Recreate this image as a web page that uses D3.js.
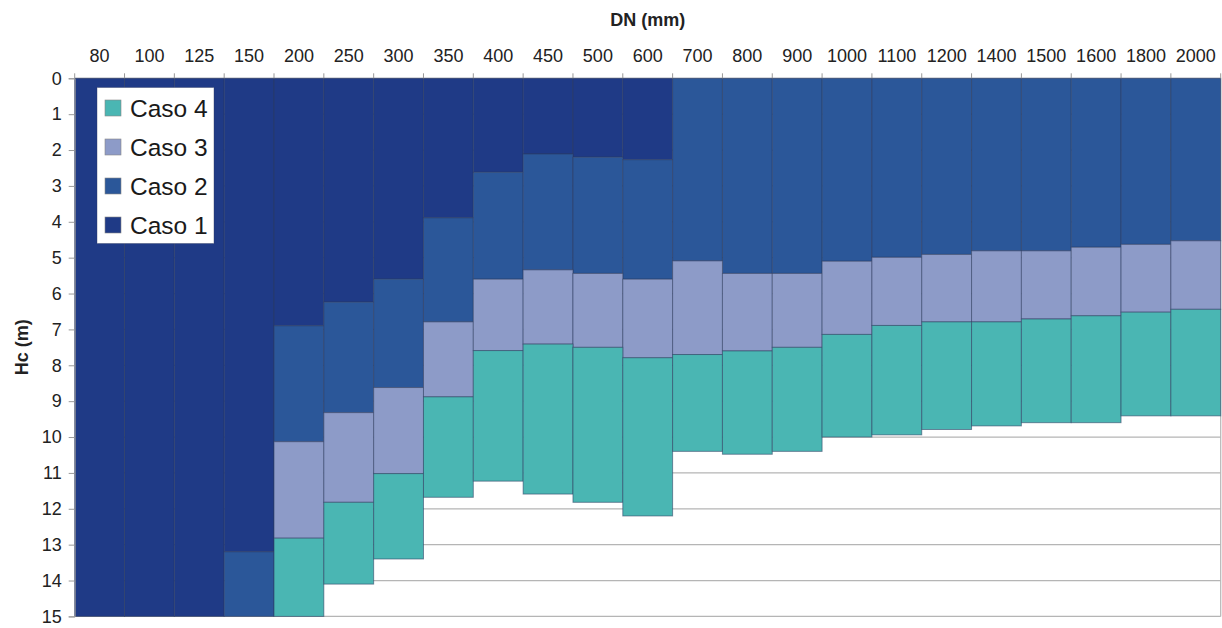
<!DOCTYPE html>
<html>
<head>
<meta charset="utf-8">
<script src="https://cdn.jsdelivr.net/npm/d3@7"></script>
<style>
  html, body { margin: 0; padding: 0; background: #fff; }
  svg { display: block; font-family: "Liberation Sans", Arial, sans-serif; }
</style>
</head>
<body>
<svg id="chart" width="1222" height="628"></svg>
<script>
// ---- data ----
const categories = ["80","100","125","150","200","250","300","350","400","450","500","600",
  "700","800","900","1000","1100","1200","1400","1500","1600","1800","2000"];
const seriesNames = ["Caso 1","Caso 2","Caso 3","Caso 4"];
const caso1 = [15, 15, 15, 13.2, 6.9, 6.24, 5.6, 3.89, 2.62, 2.11, 2.2, 2.27,
  0, 0, 0, 0, 0, 0, 0, 0, 0, 0, 0];
const caso2 = [0, 0, 0, 1.8, 3.23, 3.08, 3.02, 2.9, 2.98, 3.23, 3.24, 3.33,
  5.09, 5.44, 5.44, 5.1, 4.99, 4.91, 4.81, 4.81, 4.71, 4.63, 4.53];
const caso3 = [0, 0, 0, 0, 2.69, 2.5, 2.4, 2.09, 1.99, 2.07, 2.06, 2.19,
  2.61, 2.16, 2.06, 2.04, 1.9, 1.88, 1.98, 1.9, 1.91, 1.89, 1.91];
const caso4 = [0, 0, 0, 0, 2.18, 2.28, 2.38, 2.8, 3.64, 4.18, 4.32, 4.41,
  2.7, 2.88, 2.9, 2.86, 3.05, 3.0, 2.9, 2.89, 2.98, 2.89, 2.97];
const yTicks = [0,1,2,3,4,5,6,7,8,9,10,11,12,13,14,15];
const colors = ["#1f3a86", "#2b5799", "#8d9bc8", "#4ab6b3"];

// ---- build table ----
const table = categories.map((c, i) => ({
  cat: c, "Caso 1": caso1[i], "Caso 2": caso2[i], "Caso 3": caso3[i], "Caso 4": caso4[i]
}));
const stacked = d3.stack().keys(seriesNames)(table);

const svg = d3.select("#chart");
const mLeft = 74.7, mRight = 1220.7, mTop = 78.3, mBottom = 616.4;

const x = d3.scaleBand().domain(categories).range([mLeft, mRight]).padding(0);
const y = d3.scaleLinear().domain([0, 15]).range([mTop, mBottom]);
const color = d3.scaleOrdinal().domain(seriesNames).range(colors);

// gridlines
svg.append("g").selectAll("line").data(yTicks).join("line")
  .attr("x1", mLeft).attr("x2", mRight)
  .attr("y1", d => y(d)).attr("y2", d => y(d))
  .attr("stroke", "#b5b5b5").attr("stroke-width", 1.2);

// right border
svg.append("line").attr("x1", mRight).attr("x2", mRight)
  .attr("y1", mTop).attr("y2", mBottom)
  .attr("stroke", "#b5b5b5").attr("stroke-width", 1.2);

// bars
svg.append("g").selectAll("g").data(stacked).join("g")
  .attr("fill", d => color(d.key))
  .selectAll("rect").data(d => d.filter(p => p[1] - p[0] > 0)).join("rect")
  .attr("x", d => x(d.data.cat))
  .attr("width", x.bandwidth())
  .attr("y", d => y(d[0]))
  .attr("height", d => y(d[1]) - y(d[0]))
  .attr("stroke", "#2c3a5e")
  .attr("stroke-opacity", 0.55)
  .attr("stroke-width", 1);

// top axis labels
const topAxis = svg.append("g").attr("transform", `translate(0,${mTop})`)
  .call(d3.axisTop(x).tickSize(0).tickPadding(16));
topAxis.select(".domain").remove();
topAxis.selectAll("text").attr("font-size", 18).attr("fill", "#222")
  .attr("font-family", "Liberation Sans, Arial, sans-serif");

// top axis boundary ticks
const bounds = categories.map(c => x(c)).concat([mRight]);
svg.append("g").selectAll("line").data(bounds).join("line")
  .attr("x1", d => d).attr("x2", d => d)
  .attr("y1", mTop - 5).attr("y2", mTop)
  .attr("stroke", "#999").attr("stroke-width", 1);

// left axis
const leftAxis = svg.append("g").attr("transform", `translate(${mLeft},0)`)
  .call(d3.axisLeft(y).tickValues(yTicks).tickSize(6).tickPadding(7).tickFormat(d3.format("d")));
leftAxis.select(".domain").attr("stroke", "#999");
leftAxis.selectAll(".tick line").attr("stroke", "#999");
leftAxis.selectAll("text").attr("font-size", 18).attr("fill", "#222")
  .attr("font-family", "Liberation Sans, Arial, sans-serif");

// axis titles
svg.append("text").attr("x", (mLeft + mRight) / 2).attr("y", 26)
  .attr("text-anchor", "middle").attr("font-weight", "bold").attr("font-size", 18)
  .attr("fill", "#222").text("DN (mm)");
svg.append("text").attr("transform", `translate(28,${(mTop + mBottom) / 2}) rotate(-90)`)
  .attr("text-anchor", "middle").attr("font-weight", "bold").attr("font-size", 18)
  .attr("fill", "#222").text("Hc (m)");

// legend
const legendOrder = seriesNames.slice().reverse();
const lg = svg.append("g").attr("transform", "translate(97,87.5)");
lg.append("rect").attr("width", 117).attr("height", 156)
  .attr("fill", "#fff").attr("stroke", "#2c3a5e").attr("stroke-opacity", 0.4);
const items = lg.selectAll("g").data(legendOrder).join("g")
  .attr("transform", (d, i) => `translate(0,${20.5 + i * 39})`);
items.append("rect").attr("x", 8).attr("y", -8).attr("width", 16).attr("height", 16)
  .attr("fill", d => color(d)).attr("stroke", "#888").attr("stroke-width", 0.6);
items.append("text").attr("x", 33).attr("y", 0).attr("dy", "0.35em")
  .attr("font-size", 24.5).attr("fill", "#1a1a1a").text(d => d);
</script>
</body>
</html>
